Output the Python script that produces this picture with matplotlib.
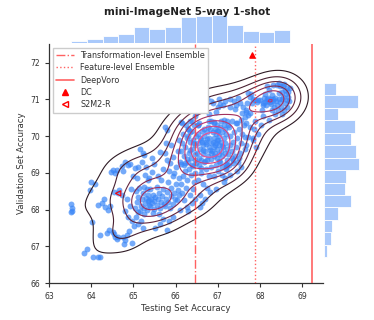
import numpy as np
import matplotlib
matplotlib.use("Agg")
import matplotlib.pyplot as plt
import seaborn as sns
from matplotlib.colors import LinearSegmentedColormap
from matplotlib.lines import Line2D
from matplotlib.ticker import MaxNLocator

# ---------------- data (testing acc, validation acc) per run ----------------
far_left = [(63.53,68.15),(63.54,68.05),(63.55,67.97),(63.53,67.93),(63.84,66.82),(63.89,66.92),
            (63.97,68.53),(64.00,68.74),(64.09,68.69),(64.03,67.67),(64.05,66.72),(64.15,66.72),
            (64.21,66.70),(64.17,68.12),(64.25,68.17),(64.21,67.32)]
left_band = [(64.37,67.37),(64.42,67.44),(64.52,67.40),(64.55,67.33),(64.56,67.26),(64.61,67.19),
             (64.33,68.06),(64.40,68.00),(64.45,68.10),(64.55,68.48),(64.30,68.30),(64.47,69.03),
             (64.52,69.08),(64.56,69.00),(64.60,69.07),
             (64.64,67.24),(64.76,67.24),(64.84,67.31),(64.80,67.17),(64.78,67.06),(64.96,67.08),
             (64.90,67.42),(64.63,68.44),(64.67,68.53),(64.72,68.40),(64.85,68.30),(64.92,68.10),
             (64.95,68.55),(64.80,67.95),(64.88,67.80),(64.97,67.70),(64.72,69.18),(64.80,69.30),
             (64.88,69.21),(64.92,69.24),(64.75,69.05),(64.98,68.90)]
cluster_a = [(65.02,67.55),(65.10,67.62),(65.23,67.49),(65.18,67.70),(65.05,67.80),
             (65.03,68.05),(65.08,68.20),(65.12,68.35),(65.15,67.95),(65.18,68.10),(65.20,68.28),
             (65.22,68.45),(65.25,68.05),(65.28,68.18),(65.30,68.32),(65.32,68.00),(65.34,68.22),
             (65.35,68.40),(65.06,68.50),(65.14,68.60),(65.26,68.62),(65.33,68.55),(65.10,67.92),
             (65.24,67.88),(65.36,68.12),(65.04,69.12),(65.12,69.16),(65.20,69.30),(65.31,69.17),
             (65.16,69.66),(65.24,69.48),(65.23,69.54),(65.08,68.85),(65.28,68.95),(65.35,68.80),
             (65.51,67.49),(65.63,67.62),(65.70,67.75),
             (65.38,68.25),(65.40,68.10),(65.42,68.30),(65.44,68.18),(65.46,68.40),(65.48,68.02),
             (65.50,68.22),(65.52,68.35),(65.55,68.12),(65.58,68.28),(65.60,68.45),(65.62,68.05),
             (65.65,68.20),(65.68,68.38),(65.72,68.15),(65.40,68.55),(65.55,68.62),(65.70,68.55),
             (65.46,67.90),(65.60,67.88),(65.43,69.03),(65.50,69.25),(65.63,69.57),(65.58,68.90),
             (65.70,69.10),(65.45,69.40),(65.66,68.80),(65.38,68.85)]
mid_band = [(65.79,67.44),(65.95,67.80),(66.10,67.99),(65.85,67.70),
            (65.76,68.10),(65.78,68.30),(65.80,68.48),(65.83,68.20),(65.86,68.05),(65.88,68.38),
            (65.90,68.60),(65.93,68.15),(65.96,68.45),(65.98,68.30),(66.00,68.70),(66.03,68.25),
            (66.06,68.52),(66.08,68.85),(65.82,68.75),(65.94,68.90),(66.09,68.40),
            (65.75,69.53),(65.79,69.35),(65.87,69.26),(65.95,69.44),(65.75,70.25),(65.79,70.16),
            (65.84,69.05),(66.00,69.15),(66.05,69.60),(65.90,69.75),(66.10,69.30),(66.07,69.90),
            (65.97,69.00),(65.78,69.80)]
cluster_b_left = [(66.26,68.08),(66.38,68.17),(66.20,68.25),(66.30,67.95),(66.45,68.30),(66.15,68.45),
                  (66.35,68.40),(66.12,68.70),(66.18,68.90),(66.22,69.05),(66.25,68.60),(66.28,68.80),
                  (66.32,69.10),(66.36,68.95),(66.40,69.20),(66.44,68.75),(66.47,69.00),(66.14,69.25),
                  (66.30,69.30),(66.42,68.55),(66.48,69.28),
                  (66.12,69.60),(66.15,69.80),(66.18,70.05),(66.20,69.45),(66.23,69.70),(66.26,69.95),
                  (66.29,70.20),(66.31,69.55),(66.33,69.85),(66.35,70.10),(66.37,69.40),(66.39,69.65),
                  (66.41,69.90),(66.43,70.30),(66.45,69.50),(66.47,69.75),(66.48,70.00),(66.46,69.35),
                  (66.40,70.15),(66.27,69.38),(66.22,69.28),(66.34,69.62),(66.44,69.82),(66.38,70.40),
                  (66.30,70.00),
                  (66.13,70.39),(66.25,70.30),(66.35,70.42),(66.45,70.55),(66.20,69.22),(66.40,70.85),
                  (66.48,70.62),(66.30,70.20),(66.16,70.35),(66.42,69.18)]
cluster_b_mid = [(66.58,68.06),(66.62,68.17),(66.58,68.39),(66.82,68.48),(66.70,68.30),(66.75,68.60),
                 (66.52,68.80),(66.60,69.00),(66.65,68.70),(66.72,69.10),(66.80,68.90),(66.55,69.20),
                 (66.68,69.30),(66.84,69.15),
                 (66.50,69.55),(66.52,69.80),(66.54,70.05),(66.56,69.40),(66.58,69.65),(66.60,69.90),
                 (66.62,70.15),(66.64,69.50),(66.66,69.75),(66.68,70.00),(66.70,69.60),(66.72,69.85),
                 (66.74,70.10),(66.76,69.45),(66.78,69.70),(66.80,69.95),(66.82,70.20),(66.84,69.55),
                 (66.85,69.80),(66.53,70.30),(66.61,69.35),(66.69,69.32),(66.77,70.25),(66.83,69.38),
                 (66.57,69.95),(66.65,69.62),(66.73,69.78),(66.81,69.62),(66.63,69.85),(66.75,69.92),
                 (66.55,70.35),(66.65,70.70),(66.75,69.35),(66.85,70.40),(66.60,69.12),(66.70,70.85),
                 (66.80,70.60),(66.52,70.30),(66.78,70.42),(66.67,70.20),(66.58,70.90),(66.83,70.95),
                 (66.74,71.05)]
cluster_b_core = [(66.95,68.55),(67.15,68.75),
                  (66.90,68.90),(67.00,69.05),(67.10,68.95),(67.20,69.15),(66.95,69.20),(67.05,69.30),
                  (67.18,68.85),
                  (66.87,69.60),(66.88,69.85),(66.89,70.10),(66.90,69.45),(66.91,69.70),(66.92,69.95),
                  (66.93,70.20),(66.94,69.55),(66.95,69.80),(66.96,70.05),(66.97,69.40),(66.98,69.65),
                  (66.99,69.90),(67.00,70.15),(67.02,69.50),(67.03,69.75),(67.04,70.00),(67.06,70.25),
                  (67.07,69.60),(67.08,69.85),(67.10,70.10),(67.11,69.45),(67.12,69.70),(67.14,69.95),
                  (67.15,70.30),(67.17,69.55),(67.18,69.80),(67.20,70.05),(67.21,69.35),(67.22,69.65),
                  (66.93,69.75),(67.01,69.88),(67.09,69.72),(67.16,70.18),(66.98,70.30),
                  (66.90,70.35),(66.95,70.65),(67.00,70.80),(67.04,69.33),(67.10,69.15),(67.15,70.45),
                  (67.20,69.25),(66.88,70.90),(67.03,71.00),(67.12,70.85),(67.22,70.40),(67.08,70.42),
                  (66.97,70.15),(67.18,70.95),(66.92,70.38),(67.06,70.88),(67.19,69.10),(67.23,69.20)]
cluster_b_right = [(67.37,69.26),(67.49,69.30),(67.30,68.95),(67.45,69.05),(67.55,69.15),
                   (67.25,69.50),(67.28,69.75),(67.30,70.00),(67.33,69.60),(67.35,69.85),(67.38,70.10),
                   (67.40,69.45),(67.43,69.70),(67.46,69.95),(67.50,70.20),(67.53,69.55),(67.56,69.80),
                   (67.58,70.05),(67.26,70.25),(67.42,70.35),(67.34,69.40),
                   (67.29,70.79),(67.41,70.75),(67.57,70.62),(67.25,70.30),(67.35,69.35),(67.45,70.35),
                   (67.52,70.90),(67.30,71.00),(67.48,71.05),(67.38,70.95),(67.55,70.45),(67.27,69.20),
                   (67.44,70.85),(67.59,70.80),(67.33,70.40),(67.50,69.40)]
upper_band = [(67.64,69.66),(67.72,69.98),(67.84,69.89),(67.64,69.98),(67.84,69.94),(67.68,69.75),
              (67.90,69.70),(67.95,70.05),(67.76,70.25),(67.62,70.30),(67.85,70.20),(67.68,70.66),
              (67.76,70.62),(67.68,70.71),(67.72,70.57),(67.64,70.53),(67.72,71.16),(67.76,71.07),
              (67.96,70.98),(67.88,70.98),(67.84,71.02),(67.78,71.15),(67.80,70.90),(67.92,70.92),
              (67.70,70.90),(67.88,70.40),(67.66,70.35)]
cluster_c = [(68.08,70.55),(68.00,70.98),(68.08,70.85),(68.12,70.92),(68.16,71.00),(68.20,71.05),
             (68.24,70.93),(68.32,71.38),(68.32,71.00),(68.28,71.12),(68.05,70.70),(68.15,70.85),
             (68.25,70.88),(68.30,70.95),(68.10,71.05),(68.22,71.25),(68.18,70.95),(68.02,70.30),
             (68.27,71.02),(68.33,70.80),(68.13,71.15),(68.06,70.90),(68.21,70.45),(68.29,70.70),
             (68.17,71.35),
             (68.40,71.39),(68.55,71.36),(68.71,71.30),(68.36,71.05),(68.51,71.21),(68.55,71.07),
             (68.47,70.93),(68.59,70.89),(68.63,70.98),(68.67,71.07),(68.45,71.00),(68.60,71.25),
             (68.65,71.30),(68.38,70.95),(68.50,70.80),(68.42,70.70),(68.57,70.70),(68.62,71.15),
             (68.48,71.35),(68.68,70.95),(68.40,70.85),(68.53,71.00),(68.66,71.20),(68.44,71.45),
             (68.58,71.42),(68.35,70.60),(68.52,70.60),(68.64,70.80),(68.46,71.18)]

runs = (far_left + left_band + cluster_a + mid_band + cluster_b_left + cluster_b_mid +
        cluster_b_core + cluster_b_right + upper_band + cluster_c)
test_acc = [p[0] for p in runs]
val_acc = [p[1] for p in runs]

transform_ens = 66.46
feature_ens = 67.88
deepvoro = 69.23
dc_test, dc_val = 67.80, 72.20
s2m2_test, s2m2_val = 64.64, 68.44

x_ticks = [63, 64, 65, 66, 67, 68, 69]
y_ticks = [66, 67, 68, 69, 70, 71, 72]

# ---------------- style ----------------
sns.set_style("ticks")
plt.rcParams['font.family'] = ['DejaVu Sans']
text_col = '#333333'

fig = plt.figure(figsize=(3.74, 3.2), dpi=100)
ax = fig.add_axes([0.131, 0.1156, 0.7334, 0.7484])
ax_top = fig.add_axes([0.131, 0.8641, 0.7334, 0.095], sharex=ax)
ax_right = fig.add_axes([0.865, 0.1156, 0.100, 0.7484], sharey=ax)

pt_col = '#3a86f7'
hist_col = '#a9c9fb'

ax.scatter(test_acc, val_acc, s=18, color=pt_col, alpha=0.7, linewidths=0, zorder=2)


# bivariate gaussian KDE (scott bandwidth per axis), contour lines at evenly spaced density levels
def scott_bw(v):
    v = np.asarray(v)
    iqr = np.subtract(*np.percentile(v, [75, 25]))
    a = min(v.std(ddof=1), iqr / 1.349)
    return 1.059 * a * len(v) ** (-1 / 5)


xv = np.asarray(test_acc)
yv = np.asarray(val_acc)
bx, by = scott_bw(xv), scott_bw(yv)
gx = np.linspace(xv.min() - 3 * bx, xv.max() + 3 * bx, 160)
gy = np.linspace(yv.min() - 3 * by, yv.max() + 3 * by, 160)
XX, YY = np.meshgrid(gx, gy)
Z = np.zeros_like(XX)
for px, py in zip(xv, yv):
    Z += np.exp(-0.5 * (((XX - px) / bx) ** 2 + ((YY - py) / by) ** 2))
Z /= (len(xv) * 2 * np.pi * bx * by)
lv = MaxNLocator(11).tick_values(Z.min(), Z.max())
lv = lv[(lv > Z.min()) & (lv < Z.max())]
kde_cmap = LinearSegmentedColormap.from_list("kde", ["#2e1a24", "#6e2844", "#b8346a", "#f04b8c"])
ax.contour(XX, YY, Z, levels=lv, cmap=kde_cmap, linewidths=0.8, zorder=3)

ax_top.hist(test_acc, bins=14, color=hist_col, edgecolor='white', linewidth=0.6)
ax_right.hist(val_acc, bins=14, orientation='horizontal', color=hist_col, edgecolor='white', linewidth=0.6)
ax_top.axis('off')
ax_right.axis('off')

red = '#ff3b3b'
ax.axvline(transform_ens, color=red, ls='-.', lw=1.0, alpha=0.8, zorder=4)
ax.axvline(feature_ens, color=red, ls=':', lw=1.0, alpha=0.8, zorder=4)
ax.axvline(deepvoro, color=red, ls='-', lw=1.2, alpha=0.8, zorder=4)
ax.scatter([dc_test], [dc_val], marker='^', color='red', s=14, zorder=5)
ax.scatter([s2m2_test], [s2m2_val], marker='<', facecolors='none', edgecolors='red', s=14,
           linewidths=0.8, zorder=5)

handles = [Line2D([], [], color=red, ls='-.', lw=1.0, alpha=0.8),
           Line2D([], [], color=red, ls=':', lw=1.0, alpha=0.8),
           Line2D([], [], color=red, ls='-', lw=1.2, alpha=0.8),
           Line2D([], [], color='red', marker='^', ls='none', markersize=4),
           Line2D([], [], color='red', marker='<', ls='none', markersize=4, markerfacecolor='none')]
labels = ['Transformation-level Ensemble', 'Feature-level Ensemble', 'DeepVoro', 'DC', 'S2M2-R']
leg = ax.legend(handles, labels, loc='upper left', fontsize=5.8, frameon=True, framealpha=1,
                edgecolor='0.8', fancybox=False, borderpad=0.4, labelspacing=0.42, handlelength=2.2)
for t in leg.get_texts():
    t.set_color(text_col)

ax.set_xlim(63, 69.5)
ax.set_ylim(66, 72.52)
ax.set_xticks(x_ticks)
ax.set_yticks(y_ticks)
ax.tick_params(labelsize=5.5, length=3, width=0.8, colors=text_col)
for s in ['top', 'right']:
    ax.spines[s].set_visible(False)
for s in ['left', 'bottom']:
    ax.spines[s].set_color('#333333')
    ax.spines[s].set_linewidth(0.9)
ax.set_xlabel('Testing Set Accuracy', fontsize=6.2, color=text_col, labelpad=2)
ax.set_ylabel('Validation Set Accuracy', fontsize=6.2, color=text_col, labelpad=3)

fig.text(0.5, 0.9625, 'mini-ImageNet 5-way 1-shot', ha='center', va='center',
         fontsize=7.5, fontweight='bold', color='#222222')

fig.savefig('out.png', dpi=100)
